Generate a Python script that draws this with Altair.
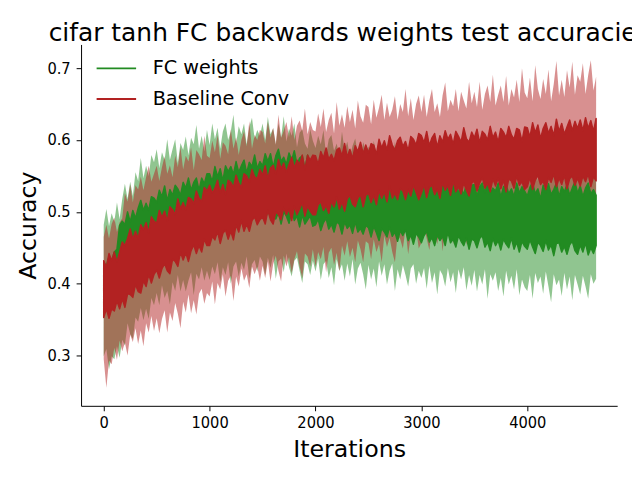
import altair as alt
import pandas as pd

# x grid: one sample every 25 iterations
ITERS = list(range(0, 4651, 25))

SERIES = ["FC weights", "Baseline Conv"]
COLORS = ["#228b22", "#b22222"]
X_TICKS = [0, 1000, 2000, 3000, 4000]
Y_TICKS = [0.3, 0.4, 0.5, 0.6, 0.7]

# ---- FC weights: spread of the (noisy) mean curve ----
FC_MEAN_HI = [
    0.430, 0.424, 0.438, 0.432, 0.444, 0.448, 0.481, 0.487, 0.482, 0.500, 0.486, 0.502, 0.491, 0.505, 0.516, 0.502, 0.512, 0.502, 0.521, 0.519,
    0.513, 0.530, 0.521, 0.536, 0.515, 0.531, 0.523, 0.537, 0.532, 0.523, 0.541, 0.533, 0.547, 0.530, 0.541, 0.547, 0.530, 0.547, 0.539, 0.553,
    0.553, 0.542, 0.563, 0.549, 0.560, 0.543, 0.564, 0.556, 0.563, 0.552, 0.570, 0.555, 0.564, 0.572, 0.554, 0.569, 0.563, 0.579, 0.560, 0.570,
    0.564, 0.581, 0.570, 0.581, 0.562, 0.578, 0.587, 0.570, 0.576, 0.566, 0.582, 0.572, 0.585, 0.566, 0.575, 0.578, 0.559, 0.579, 0.565, 0.571,
    0.573, 0.560, 0.565, 0.552, 0.570, 0.554, 0.562, 0.569, 0.550, 0.557, 0.543, 0.560, 0.551, 0.561, 0.546, 0.554, 0.540, 0.555, 0.547, 0.540,
    0.550, 0.536, 0.554, 0.540, 0.544, 0.531, 0.549, 0.543, 0.535, 0.552, 0.536, 0.542, 0.530, 0.546, 0.537, 0.543, 0.527, 0.540, 0.531, 0.545,
    0.532, 0.544, 0.528, 0.539, 0.545, 0.525, 0.536, 0.529, 0.542, 0.532, 0.539, 0.522, 0.536, 0.543, 0.527, 0.533, 0.524, 0.539, 0.530, 0.537,
    0.538, 0.522, 0.535, 0.540, 0.527, 0.544, 0.525, 0.533, 0.529, 0.540, 0.520, 0.535, 0.538, 0.525, 0.532, 0.521, 0.540, 0.526, 0.535, 0.529,
    0.522, 0.534, 0.541, 0.525, 0.532, 0.518, 0.537, 0.527, 0.539, 0.524, 0.531, 0.540, 0.521, 0.535, 0.528, 0.538, 0.523, 0.533, 0.542, 0.526,
    0.536, 0.521, 0.533, 0.540, 0.525, 0.531, 0.523,
]
FC_MEAN_LO = [
    0.359, 0.372, 0.363, 0.377, 0.385, 0.380, 0.413, 0.415, 0.436, 0.428, 0.425, 0.442, 0.438, 0.449, 0.434, 0.448, 0.446, 0.462, 0.449, 0.461,
    0.465, 0.456, 0.472, 0.466, 0.459, 0.476, 0.474, 0.468, 0.485, 0.474, 0.482, 0.472, 0.490, 0.482, 0.490, 0.479, 0.496, 0.491, 0.488, 0.504,
    0.493, 0.504, 0.488, 0.501, 0.505, 0.491, 0.501, 0.509, 0.496, 0.489, 0.506, 0.510, 0.500, 0.494, 0.508, 0.505, 0.495, 0.512, 0.501, 0.495,
    0.505, 0.490, 0.501, 0.494, 0.507, 0.490, 0.499, 0.483, 0.500, 0.494, 0.484, 0.500, 0.488, 0.494, 0.479, 0.496, 0.483, 0.489, 0.494, 0.480,
    0.482, 0.490, 0.474, 0.485, 0.491, 0.476, 0.483, 0.472, 0.486, 0.483, 0.469, 0.486, 0.477, 0.482, 0.470, 0.486, 0.472, 0.477, 0.469, 0.481,
    0.478, 0.465, 0.480, 0.471, 0.460, 0.477, 0.472, 0.465, 0.479, 0.466, 0.472, 0.459, 0.474, 0.467, 0.475, 0.460, 0.468, 0.455, 0.470, 0.465,
    0.457, 0.467, 0.473, 0.458, 0.464, 0.453, 0.468, 0.460, 0.466, 0.453, 0.472, 0.457, 0.462, 0.451, 0.467, 0.459, 0.453, 0.464, 0.448, 0.462,
    0.460, 0.450, 0.463, 0.467, 0.451, 0.458, 0.446, 0.463, 0.453, 0.460, 0.447, 0.462, 0.455, 0.450, 0.464, 0.448, 0.458, 0.444, 0.459, 0.452,
    0.448, 0.461, 0.451, 0.442, 0.458, 0.453, 0.445, 0.460, 0.447, 0.454, 0.439, 0.456, 0.457, 0.444, 0.452, 0.441, 0.454, 0.459, 0.446, 0.441,
    0.454, 0.444, 0.457, 0.440, 0.450, 0.442, 0.453,
]
# ---- FC weights: shaded band (mean +/- std) ----
FC_BAND_HI = [
    0.482, 0.504, 0.480, 0.498, 0.486, 0.513, 0.490, 0.518, 0.539, 0.518, 0.542, 0.522, 0.555, 0.543, 0.575, 0.547, 0.564, 0.550, 0.579, 0.569,
    0.587, 0.561, 0.583, 0.572, 0.601, 0.572, 0.587, 0.601, 0.568, 0.596, 0.586, 0.605, 0.579, 0.603, 0.594, 0.621, 0.588, 0.606, 0.584, 0.614,
    0.593, 0.623, 0.601, 0.617, 0.588, 0.612, 0.623, 0.600, 0.612, 0.635, 0.595, 0.619, 0.608, 0.623, 0.594, 0.618, 0.631, 0.602, 0.614, 0.606,
    0.623, 0.600, 0.632, 0.608, 0.616, 0.593, 0.623, 0.603, 0.633, 0.598, 0.616, 0.606, 0.623, 0.590, 0.610, 0.615, 0.595, 0.588, 0.615, 0.599,
    0.589, 0.606, 0.594, 0.614, 0.579, 0.601, 0.607, 0.585, 0.595, 0.578, 0.612, 0.585, 0.598, 0.577, 0.592, 0.602, 0.581, 0.571, 0.597, 0.585,
    0.591, 0.571, 0.599, 0.580, 0.592, 0.565, 0.584, 0.592, 0.573, 0.566, 0.598, 0.574, 0.583, 0.568, 0.591, 0.558, 0.584, 0.577, 0.564, 0.592,
    0.571, 0.586, 0.558, 0.581, 0.564, 0.575, 0.591, 0.559, 0.576, 0.568, 0.552, 0.579, 0.570, 0.562, 0.582, 0.557, 0.574, 0.552, 0.576, 0.562,
    0.576, 0.559, 0.567, 0.548, 0.578, 0.560, 0.572, 0.552, 0.579, 0.554, 0.566, 0.549, 0.573, 0.561, 0.544, 0.569, 0.565, 0.551, 0.576, 0.555,
    0.551, 0.574, 0.557, 0.566, 0.543, 0.570, 0.552, 0.561, 0.577, 0.545, 0.563, 0.547, 0.567, 0.554, 0.570, 0.540, 0.560, 0.565, 0.547, 0.569,
    0.550, 0.566, 0.542, 0.561, 0.571, 0.547, 0.558,
]
FC_BAND_LO = [
    0.299, 0.309, 0.281, 0.299, 0.295, 0.313, 0.297, 0.322, 0.314, 0.345, 0.330, 0.323, 0.353, 0.347, 0.366, 0.349, 0.365, 0.351, 0.380, 0.370,
    0.387, 0.370, 0.398, 0.380, 0.390, 0.371, 0.402, 0.390, 0.412, 0.389, 0.405, 0.389, 0.404, 0.416, 0.384, 0.414, 0.406, 0.423, 0.404, 0.418,
    0.405, 0.424, 0.413, 0.430, 0.402, 0.423, 0.412, 0.430, 0.400, 0.424, 0.431, 0.410, 0.429, 0.419, 0.438, 0.407, 0.427, 0.433, 0.417, 0.438,
    0.431, 0.412, 0.436, 0.422, 0.440, 0.407, 0.431, 0.435, 0.416, 0.442, 0.423, 0.410, 0.432, 0.436, 0.418, 0.401, 0.431, 0.427, 0.412, 0.432,
    0.417, 0.435, 0.405, 0.427, 0.432, 0.408, 0.423, 0.398, 0.434, 0.418, 0.427, 0.404, 0.428, 0.410, 0.434, 0.399, 0.421, 0.429, 0.413, 0.392,
    0.426, 0.406, 0.421, 0.395, 0.431, 0.411, 0.427, 0.399, 0.418, 0.428, 0.390, 0.420, 0.406, 0.426, 0.412, 0.396, 0.421, 0.427, 0.400, 0.418,
    0.408, 0.422, 0.393, 0.425, 0.401, 0.416, 0.385, 0.419, 0.412, 0.396, 0.422, 0.402, 0.416, 0.387, 0.420, 0.406, 0.423, 0.391, 0.412, 0.397,
    0.419, 0.389, 0.412, 0.399, 0.420, 0.379, 0.413, 0.404, 0.416, 0.390, 0.408, 0.382, 0.418, 0.399, 0.411, 0.392, 0.420, 0.384, 0.406, 0.395,
    0.390, 0.412, 0.379, 0.415, 0.401, 0.410, 0.386, 0.417, 0.396, 0.374, 0.413, 0.398, 0.406, 0.383, 0.415, 0.392, 0.410, 0.377, 0.412, 0.399,
    0.385, 0.411, 0.396, 0.379, 0.413, 0.400, 0.407,
]

# ---- Baseline Conv: spread of the (noisy) mean curve ----
BC_MEAN_HI = [
    0.432, 0.423, 0.442, 0.432, 0.444, 0.430, 0.444, 0.458, 0.453, 0.463, 0.476, 0.462, 0.473, 0.463, 0.482, 0.475, 0.485, 0.471, 0.493, 0.487,
    0.484, 0.502, 0.492, 0.501, 0.487, 0.507, 0.503, 0.496, 0.518, 0.504, 0.513, 0.503, 0.520, 0.518, 0.511, 0.529, 0.519, 0.514, 0.534, 0.529,
    0.537, 0.526, 0.533, 0.544, 0.526, 0.538, 0.524, 0.544, 0.541, 0.534, 0.551, 0.540, 0.534, 0.553, 0.550, 0.541, 0.559, 0.549, 0.546, 0.559,
    0.551, 0.564, 0.546, 0.561, 0.565, 0.553, 0.573, 0.560, 0.568, 0.555, 0.566, 0.576, 0.561, 0.572, 0.566, 0.579, 0.559, 0.579, 0.572, 0.579,
    0.578, 0.566, 0.584, 0.575, 0.589, 0.573, 0.580, 0.571, 0.586, 0.589, 0.578, 0.595, 0.576, 0.587, 0.574, 0.592, 0.584, 0.597, 0.581, 0.593,
    0.582, 0.595, 0.593, 0.580, 0.601, 0.589, 0.599, 0.586, 0.606, 0.593, 0.586, 0.599, 0.604, 0.591, 0.598, 0.585, 0.605, 0.601, 0.593, 0.609,
    0.606, 0.596, 0.612, 0.592, 0.603, 0.609, 0.590, 0.606, 0.597, 0.613, 0.601, 0.608, 0.594, 0.612, 0.605, 0.597, 0.617, 0.602, 0.597, 0.611,
    0.603, 0.615, 0.596, 0.612, 0.608, 0.600, 0.619, 0.603, 0.611, 0.597, 0.616, 0.611, 0.603, 0.619, 0.607, 0.601, 0.616, 0.614, 0.598, 0.618,
    0.617, 0.604, 0.624, 0.610, 0.621, 0.602, 0.616, 0.624, 0.609, 0.619, 0.606, 0.629, 0.612, 0.623, 0.608, 0.618, 0.628, 0.613, 0.626, 0.616,
    0.628, 0.613, 0.631, 0.616, 0.627, 0.612, 0.630,
]
BC_MEAN_LO = [
    0.353, 0.365, 0.352, 0.365, 0.362, 0.376, 0.365, 0.379, 0.367, 0.386, 0.385, 0.381, 0.399, 0.389, 0.387, 0.404, 0.396, 0.413, 0.401, 0.413,
    0.419, 0.408, 0.421, 0.428, 0.418, 0.414, 0.434, 0.431, 0.424, 0.444, 0.433, 0.443, 0.431, 0.446, 0.454, 0.442, 0.453, 0.444, 0.462, 0.453,
    0.453, 0.466, 0.461, 0.473, 0.456, 0.470, 0.475, 0.462, 0.473, 0.461, 0.482, 0.472, 0.488, 0.473, 0.483, 0.473, 0.488, 0.493, 0.482, 0.489,
    0.493, 0.483, 0.502, 0.489, 0.483, 0.500, 0.496, 0.489, 0.506, 0.496, 0.504, 0.488, 0.508, 0.496, 0.504, 0.513, 0.494, 0.508, 0.501, 0.496,
    0.496, 0.510, 0.514, 0.502, 0.509, 0.498, 0.515, 0.507, 0.521, 0.504, 0.514, 0.501, 0.518, 0.523, 0.511, 0.507, 0.519, 0.524, 0.507, 0.523,
    0.526, 0.513, 0.523, 0.510, 0.530, 0.519, 0.528, 0.514, 0.536, 0.519, 0.526, 0.517, 0.533, 0.529, 0.517, 0.531, 0.522, 0.537, 0.527, 0.517,
    0.526, 0.538, 0.520, 0.534, 0.537, 0.524, 0.532, 0.519, 0.541, 0.530, 0.537, 0.523, 0.543, 0.528, 0.535, 0.525, 0.540, 0.530, 0.522, 0.540,
    0.543, 0.529, 0.540, 0.548, 0.533, 0.540, 0.528, 0.546, 0.536, 0.547, 0.532, 0.544, 0.528, 0.546, 0.543, 0.533, 0.550, 0.537, 0.542, 0.531,
    0.535, 0.548, 0.531, 0.544, 0.551, 0.538, 0.543, 0.531, 0.548, 0.541, 0.553, 0.535, 0.547, 0.538, 0.551, 0.532, 0.546, 0.550, 0.537, 0.547,
    0.536, 0.550, 0.542, 0.553, 0.535, 0.549, 0.543,
]
# ---- Baseline Conv: shaded band (mean +/- std) ----
BC_BAND_HI = [
    0.465, 0.482, 0.463, 0.483, 0.492, 0.472, 0.485, 0.491, 0.526, 0.514, 0.538, 0.513, 0.537, 0.531, 0.549, 0.530, 0.548, 0.564, 0.542, 0.553,
    0.564, 0.543, 0.562, 0.577, 0.553, 0.565, 0.548, 0.578, 0.562, 0.590, 0.559, 0.578, 0.570, 0.590, 0.558, 0.586, 0.580, 0.572, 0.606, 0.578,
    0.575, 0.599, 0.583, 0.607, 0.574, 0.597, 0.592, 0.580, 0.615, 0.588, 0.604, 0.579, 0.600, 0.612, 0.591, 0.626, 0.588, 0.607, 0.600, 0.614,
    0.611, 0.595, 0.625, 0.603, 0.617, 0.594, 0.635, 0.603, 0.613, 0.625, 0.604, 0.633, 0.600, 0.620, 0.627, 0.613, 0.644, 0.608, 0.625, 0.614,
    0.612, 0.637, 0.618, 0.644, 0.611, 0.628, 0.638, 0.609, 0.653, 0.620, 0.636, 0.617, 0.647, 0.625, 0.642, 0.616, 0.655, 0.633, 0.624, 0.649,
    0.646, 0.622, 0.656, 0.631, 0.645, 0.663, 0.628, 0.652, 0.632, 0.642, 0.661, 0.628, 0.650, 0.639, 0.671, 0.633, 0.658, 0.628, 0.650, 0.662,
    0.639, 0.663, 0.632, 0.655, 0.671, 0.639, 0.651, 0.632, 0.662, 0.680, 0.640, 0.656, 0.647, 0.671, 0.640, 0.667, 0.655, 0.644, 0.681, 0.651,
    0.667, 0.646, 0.681, 0.642, 0.664, 0.676, 0.653, 0.691, 0.648, 0.663, 0.676, 0.653, 0.689, 0.648, 0.671, 0.659, 0.684, 0.653, 0.700, 0.666,
    0.658, 0.687, 0.654, 0.704, 0.671, 0.657, 0.685, 0.664, 0.698, 0.654, 0.678, 0.710, 0.662, 0.684, 0.660, 0.697, 0.673, 0.709, 0.663, 0.690,
    0.681, 0.707, 0.664, 0.690, 0.711, 0.669, 0.688,
]
BC_BAND_LO = [
    0.295, 0.255, 0.293, 0.288, 0.311, 0.294, 0.321, 0.306, 0.318, 0.300, 0.329, 0.319, 0.338, 0.316, 0.335, 0.313, 0.345, 0.332, 0.355, 0.334,
    0.352, 0.331, 0.351, 0.363, 0.332, 0.360, 0.348, 0.373, 0.358, 0.338, 0.375, 0.360, 0.385, 0.359, 0.377, 0.357, 0.386, 0.393, 0.372, 0.387,
    0.382, 0.403, 0.371, 0.401, 0.392, 0.413, 0.382, 0.404, 0.411, 0.376, 0.410, 0.396, 0.421, 0.404, 0.413, 0.394, 0.424, 0.413, 0.424, 0.404,
    0.425, 0.408, 0.431, 0.403, 0.427, 0.439, 0.418, 0.403, 0.439, 0.424, 0.437, 0.415, 0.434, 0.445, 0.424, 0.408, 0.442, 0.438, 0.424, 0.448,
    0.424, 0.444, 0.434, 0.451, 0.416, 0.443, 0.450, 0.426, 0.443, 0.417, 0.453, 0.439, 0.459, 0.437, 0.450, 0.430, 0.460, 0.448, 0.430, 0.459,
    0.456, 0.434, 0.462, 0.444, 0.455, 0.430, 0.467, 0.451, 0.464, 0.444, 0.430, 0.468, 0.462, 0.449, 0.476, 0.441, 0.467, 0.456, 0.476, 0.449,
    0.457, 0.479, 0.463, 0.447, 0.476, 0.470, 0.455, 0.485, 0.445, 0.477, 0.465, 0.484, 0.455, 0.478, 0.484, 0.464, 0.493, 0.454, 0.480, 0.473,
    0.492, 0.475, 0.499, 0.463, 0.498, 0.485, 0.504, 0.474, 0.494, 0.504, 0.471, 0.499, 0.485, 0.510, 0.482, 0.503, 0.471, 0.509, 0.493, 0.482,
    0.492, 0.509, 0.480, 0.506, 0.514, 0.489, 0.504, 0.474, 0.511, 0.499, 0.517, 0.487, 0.509, 0.515, 0.482, 0.508, 0.496, 0.522, 0.492, 0.513,
    0.511, 0.489, 0.519, 0.502, 0.517, 0.487, 0.514,
]


def frame(lo, hi, name):
    return pd.DataFrame({"iter": ITERS, "lo": lo, "hi": hi, "series": name})


FONT = "DejaVu Sans"
TICK_FONT = "DejaVu Sans Condensed, DejaVu Sans"

x_enc = alt.X(
    "iter:Q",
    scale=alt.Scale(domain=[-214, 4849], nice=False, zero=False),
    axis=alt.Axis(values=X_TICKS, format="d", title="Iterations",
                  labelPadding=4, titlePadding=7),
)
y_enc = alt.Y(
    "lo:Q",
    scale=alt.Scale(domain=[0.23, 0.733], nice=False, zero=False),
    axis=alt.Axis(values=Y_TICKS, format=".1f", title="Accuracy",
                  labelPadding=6, titlePadding=7),
)
y2_enc = alt.Y2("hi:Q")

color_scale = alt.Scale(domain=SERIES, range=COLORS)

band_fc = alt.Chart(frame(FC_BAND_LO, FC_BAND_HI, SERIES[0])).mark_area(
    opacity=0.5, color=COLORS[0]
).encode(x=x_enc, y=y_enc, y2=y2_enc)

band_bc = alt.Chart(frame(BC_BAND_LO, BC_BAND_HI, SERIES[1])).mark_area(
    opacity=0.5, color=COLORS[1]
).encode(x=x_enc, y=y_enc, y2=y2_enc)

legend = alt.Legend(
    title=None, orient="none", legendX=26, legendY=14.5, padding=0,
    symbolType="M-2.5,-0.12H2.5V0.12H-2.5Z", symbolSize=256,
    symbolStrokeWidth=0, symbolOpacity=1,
    labelFont=FONT, labelFontSize=19.5, labelColor="black", labelOffset=27,
    labelLimit=400, rowPadding=10,
)


def mean_layer(lo, hi, name, col):
    return alt.Chart(frame(lo, hi, name)).mark_area(
        opacity=1, stroke=col, strokeWidth=1.5, strokeJoin="round"
    ).encode(
        x=x_enc, y=y_enc, y2=y2_enc,
        color=alt.Color("series:N", scale=color_scale, legend=legend),
    )


mean_fc = mean_layer(FC_MEAN_LO, FC_MEAN_HI, SERIES[0], COLORS[0])
mean_bc = mean_layer(BC_MEAN_LO, BC_MEAN_HI, SERIES[1], COLORS[1])

chart = alt.layer(band_fc, band_bc, mean_fc, mean_bc).properties(
    width=543,
    height=366,
    autosize=alt.AutoSizeParams(type="none"),
    padding={"left": 74, "top": 34, "right": 15, "bottom": 56},
    title=alt.TitleParams(
        text="cifar tanh FC backwards weights test accuracies",
        font=FONT, fontSize=25.2, fontWeight="normal", color="black",
        anchor="middle", frame="group", offset=-2,
    ),
).configure_view(stroke=None).configure_axis(
    grid=False, domainColor="black", domainWidth=1, tickColor="black",
    tickSize=5, labelColor="black", titleColor="black",
    labelFont=TICK_FONT, labelFontSize=16.5, titleFont=FONT,
    titleFontSize=24, titleFontWeight="normal",
)

chart.save("out.html", embed_options={"renderer": "svg", "actions": False})
